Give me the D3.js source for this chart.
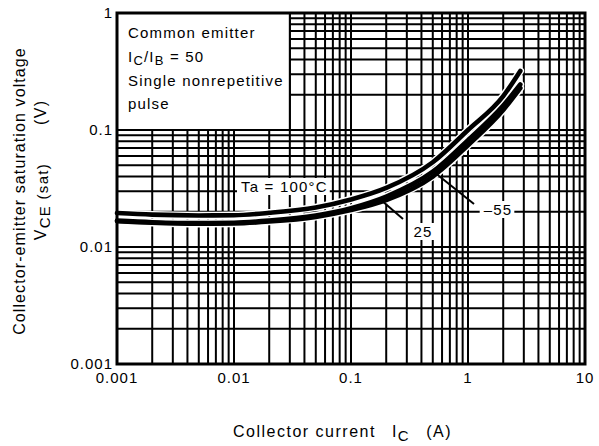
<!DOCTYPE html>
<html>
<head>
<meta charset="utf-8">
<script src="https://cdn.jsdelivr.net/npm/d3@7"></script>
<style>
  body { margin: 0; background: #fff; }
  text { font-family: "Liberation Sans", Arial, sans-serif; fill: #000; }
</style>
</head>
<body>
<svg id="chart" width="599" height="446"></svg>
<script>
// collector current (A)
const current = [0.001, 0.002, 0.005, 0.01, 0.02, 0.05, 0.1, 0.2, 0.5, 1, 2, 2.8]
// VCE(sat) (V) per ambient temperature
const vce100 = [0.0195, 0.0189, 0.0186, 0.0187, 0.0196, 0.0218, 0.0255, 0.032, 0.053, 0.1, 0.195, 0.32]
const vce25 = [0.0168, 0.0163, 0.016, 0.0161, 0.0168, 0.0186, 0.0215, 0.027, 0.044, 0.082, 0.162, 0.245]
const vceM55 = [0.0166, 0.0161, 0.0158, 0.0159, 0.0165, 0.0181, 0.0207, 0.0252, 0.04, 0.074, 0.148, 0.228]

const xTicks = [0.001, 0.01, 0.1, 1, 10]
const xTickLabels = ['0.001', '0.01', '0.1', '1', '10']
const yTicks = [0.001, 0.01, 0.1, 1]
const yTickLabels = ['0.001', '0.01', '0.1', '1']

const svg = d3.select('#chart')
const pLeft = 117, pRight = 585, pTop = 13, pBottom = 364

const x = d3.scaleLog().domain([0.001, 10]).range([pLeft, pRight])
const y = d3.scaleLog().domain([0.001, 1]).range([pBottom, pTop])

svg.append('rect').attr('width', 599).attr('height', 446).attr('fill', '#fff')

// grid 1..9 per decade
const grid = svg.append('g')
grid.selectAll('line.v')
  .data(x.ticks())
  .enter()
  .append('line')
  .attr('x1', d => x(d)).attr('x2', d => x(d))
  .attr('y1', pTop).attr('y2', pBottom)
  .attr('stroke', '#000').attr('stroke-width', 2)
grid.selectAll('line.h')
  .data(y.ticks())
  .enter()
  .append('line')
  .attr('y1', d => y(d)).attr('y2', d => y(d))
  .attr('x1', pLeft).attr('x2', pRight)
  .attr('stroke', '#000').attr('stroke-width', 2)

// condition box in the corner
svg.append('rect')
  .attr('x', x(0.001)).attr('y', y(1))
  .attr('width', x(0.03) - x(0.001)).attr('height', y(0.1) - y(1))
  .attr('fill', '#fff').attr('stroke', '#000').attr('stroke-width', 2)

const fs = 15
const cond = svg.append('g').attr('font-size', fs).attr('letter-spacing', '1.2px')
cond.append('text').attr('x', 128).attr('y', 38).text('Common emitter')
const ratio = cond.append('text').attr('x', 128).attr('y', 62)
ratio.append('tspan').text('I')
ratio.append('tspan').attr('dy', 3).attr('font-size', 13).text('C')
ratio.append('tspan').attr('dy', -3).text('/I')
ratio.append('tspan').attr('dy', 3).attr('font-size', 13).text('B')
ratio.append('tspan').attr('dy', -3).text(' = 50')
cond.append('text').attr('x', 128).attr('y', 86).text('Single nonrepetitive')
cond.append('text').attr('x', 128).attr('y', 109).text('pulse')

// curves: white halos first, then the black lines
const line = d3.line()
  .x(d => x(d[0]))
  .y(d => y(d[1]))
  .curve(d3.curveMonotoneX)

const series = [vceM55, vce25, vce100].map(s => current.map((c, i) => [c, s[i]]))
svg.append('g').selectAll('path')
  .data(series)
  .enter()
  .append('path')
  .attr('d', line).attr('fill', 'none')
  .attr('stroke', '#fff').attr('stroke-width', 7.5).attr('stroke-linecap', 'round')
svg.append('g').selectAll('path')
  .data(series)
  .enter()
  .append('path')
  .attr('d', line).attr('fill', 'none')
  .attr('stroke', '#000').attr('stroke-width', 4.6).attr('stroke-linecap', 'round')

// labels with arrows
function label(txt, tx, ty, anchor) {
  const t = svg.append('text').attr('x', tx).attr('y', ty)
    .attr('font-size', fs).attr('letter-spacing', '1.2px')
    .attr('text-anchor', anchor).text(txt)
  const b = t.node().getBBox()
  svg.insert('rect', () => t.node())
    .attr('x', b.x - 4).attr('y', b.y).attr('width', b.width + 6).attr('height', b.height)
    .attr('fill', '#fff')
}
function arrow(x1, y1, x2, y2) {
  svg.append('line').attr('x1', x1).attr('y1', y1).attr('x2', x2).attr('y2', y2)
    .attr('stroke', '#000').attr('stroke-width', 2)
}
label('Ta = 100°C', 241, 192, 'start')
arrow(403, 219, 381, 200)
label('25', 423, 237, 'middle')
arrow(474, 204, 434, 172)
label('\u201355', 498, 215, 'middle')

// frame
svg.append('rect')
  .attr('x', pLeft).attr('y', pTop).attr('width', pRight - pLeft).attr('height', pBottom - pTop)
  .attr('fill', 'none').attr('stroke', '#000').attr('stroke-width', 3)

// tick labels
svg.selectAll('text.xt')
  .data(xTicks)
  .enter()
  .append('text')
  .attr('x', d => x(d)).attr('y', pBottom + 19)
  .attr('text-anchor', 'middle').attr('font-size', fs).attr('letter-spacing', '1px')
  .text((d, i) => xTickLabels[i])
svg.selectAll('text.yt')
  .data(yTicks)
  .enter()
  .append('text')
  .attr('x', pLeft - 4).attr('y', d => y(d) + 5)
  .attr('text-anchor', 'end').attr('font-size', fs).attr('letter-spacing', '1px')
  .text((d, i) => yTickLabels[i])

// axis titles
const xt = svg.append('text').attr('x', 233).attr('y', 437).attr('font-size', 16).attr('letter-spacing', '1.5px')
xt.append('tspan').text('Collector current')
xt.append('tspan').attr('dx', 16).text('I')
xt.append('tspan').attr('dy', 4).attr('font-size', 15).text('C')
xt.append('tspan').attr('dy', -4).attr('dx', 16).text('(A)')

svg.append('text')
  .attr('transform', 'translate(25,191) rotate(-90)')
  .attr('text-anchor', 'middle').attr('font-size', 16).attr('letter-spacing', '1.1px')
  .text('Collector-emitter saturation voltage')
const yt2 = svg.append('text')
  .attr('transform', 'translate(46,170) rotate(-90)')
  .attr('text-anchor', 'middle').attr('font-size', 16).attr('letter-spacing', '1.3px')
yt2.append('tspan').text('V')
yt2.append('tspan').attr('dy', 4).attr('font-size', 15).text('CE')
yt2.append('tspan').attr('dy', -2).attr('font-size', 15).text(' (sat)')
yt2.append('tspan').attr('dy', -2).attr('dx', 38).text('(V)')
</script>
</body>
</html>
